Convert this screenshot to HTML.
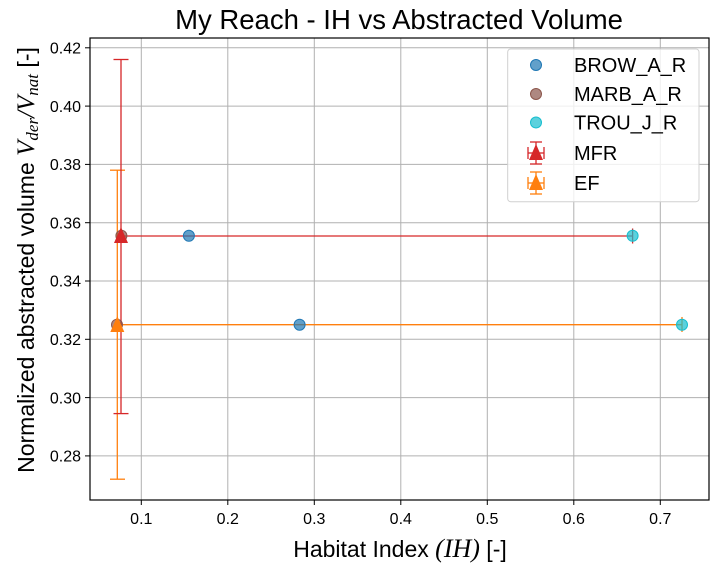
<!DOCTYPE html>
<html><head><meta charset="utf-8"><style>body{margin:0;background:#fff}svg{display:block}text{font-family:"Liberation Sans",Arial,sans-serif}</style></head><body>
<svg width="719" height="572" viewBox="0 0 719 572" xmlns="http://www.w3.org/2000/svg">
<rect width="719" height="572" fill="#fff"/>
<g stroke="#b0b0b0" stroke-width="1">
<line x1="141.3" y1="38" x2="141.3" y2="500"/><line x1="227.8" y1="38" x2="227.8" y2="500"/><line x1="314.3" y1="38" x2="314.3" y2="500"/><line x1="400.8" y1="38" x2="400.8" y2="500"/><line x1="487.3" y1="38" x2="487.3" y2="500"/><line x1="573.8" y1="38" x2="573.8" y2="500"/><line x1="660.3" y1="38" x2="660.3" y2="500"/>
<line x1="90" y1="47.8" x2="709" y2="47.8"/><line x1="90" y1="106.1" x2="709" y2="106.1"/><line x1="90" y1="164.4" x2="709" y2="164.4"/><line x1="90" y1="222.7" x2="709" y2="222.7"/><line x1="90" y1="281" x2="709" y2="281"/><line x1="90" y1="339.3" x2="709" y2="339.3"/><line x1="90" y1="397.6" x2="709" y2="397.6"/><line x1="90" y1="455.9" x2="709" y2="455.9"/>
</g>
<g stroke="#ff7f0e" stroke-width="1.3" fill="none">
<line x1="117.3" y1="170.2" x2="117.3" y2="479.2"/><line x1="110" y1="170.2" x2="125" y2="170.2"/><line x1="110" y1="479.2" x2="125" y2="479.2"/>
<line x1="117.3" y1="324.7" x2="682" y2="324.7"/><line x1="682" y1="317" x2="682" y2="332"/>
</g>
<g stroke="#d62728" stroke-width="1.3" fill="none">
<line x1="121" y1="59.5" x2="121" y2="413.6"/><line x1="113.5" y1="59.5" x2="128.5" y2="59.5"/><line x1="113.5" y1="413.6" x2="128.5" y2="413.6"/>
<line x1="121" y1="236" x2="632.6" y2="236"/><line x1="632.6" y1="228.5" x2="632.6" y2="243.5"/>
</g>
<g stroke-width="1">
<circle cx="188.9" cy="235.8" r="5.5" fill="#1f77b4" fill-opacity="0.7" stroke="#1f77b4"/>
<circle cx="299.6" cy="324.7" r="5.5" fill="#1f77b4" fill-opacity="0.7" stroke="#1f77b4"/>
<circle cx="121.4" cy="235.8" r="5.5" fill="#8c564b" fill-opacity="0.7" stroke="#8c564b"/>
<circle cx="117" cy="324.7" r="5.5" fill="#8c564b" fill-opacity="0.7" stroke="#8c564b"/>
<circle cx="632.6" cy="235.8" r="5.5" fill="#17becf" fill-opacity="0.7" stroke="#17becf"/>
<circle cx="682" cy="324.7" r="5.5" fill="#17becf" fill-opacity="0.7" stroke="#17becf"/>
</g>
<polygon points="121,227 128,243 114,243" fill="#d62728"/>
<polygon points="117.3,316 124.3,332 110.3,332" fill="#ff7f0e"/>
<rect x="90" y="38" width="619" height="462" fill="none" stroke="#000" stroke-width="1.2"/>
<g stroke="#000" stroke-width="1">
<line x1="141.3" y1="500" x2="141.3" y2="505"/><line x1="227.8" y1="500" x2="227.8" y2="505"/><line x1="314.3" y1="500" x2="314.3" y2="505"/><line x1="400.8" y1="500" x2="400.8" y2="505"/><line x1="487.3" y1="500" x2="487.3" y2="505"/><line x1="573.8" y1="500" x2="573.8" y2="505"/><line x1="660.3" y1="500" x2="660.3" y2="505"/>
<line x1="85" y1="47.8" x2="90" y2="47.8"/><line x1="85" y1="106.1" x2="90" y2="106.1"/><line x1="85" y1="164.4" x2="90" y2="164.4"/><line x1="85" y1="222.7" x2="90" y2="222.7"/><line x1="85" y1="281" x2="90" y2="281"/><line x1="85" y1="339.3" x2="90" y2="339.3"/><line x1="85" y1="397.6" x2="90" y2="397.6"/><line x1="85" y1="455.9" x2="90" y2="455.9"/>
</g>
<g font-size="16" text-anchor="middle">
<text x="141.3" y="524">0.1</text><text x="227.8" y="524">0.2</text><text x="314.3" y="524">0.3</text><text x="400.8" y="524">0.4</text><text x="487.3" y="524">0.5</text><text x="573.8" y="524">0.6</text><text x="660.3" y="524">0.7</text>
</g>
<g font-size="16" text-anchor="end">
<text x="81" y="53.5">0.42</text><text x="81" y="111.8">0.40</text><text x="81" y="170.1">0.38</text><text x="81" y="228.4">0.36</text><text x="81" y="286.7">0.34</text><text x="81" y="345">0.32</text><text x="81" y="403.3">0.30</text><text x="81" y="461.6">0.28</text>
</g>
<text x="399" y="29" font-size="27.5" text-anchor="middle">My Reach - IH vs Abstracted Volume</text>
<text x="400" y="557" font-size="23" text-anchor="middle">Habitat Index <tspan font-family="Liberation Serif" font-style="italic" font-size="26">(IH)</tspan> [-]</text>
<text transform="translate(34,260) rotate(-90)" font-size="23" text-anchor="middle">Normalized abstracted volume <tspan font-family="Liberation Serif" font-style="italic" font-size="25">V<tspan font-size="17" dy="4">der</tspan><tspan dy="-4">/V</tspan><tspan font-size="17" dy="4">nat</tspan></tspan><tspan dy="-4"> [-]</tspan></text>
<rect x="507.7" y="49" width="191.3" height="152.7" rx="3" fill="#fff" fill-opacity="0.8" stroke="#d0d0d0"/>
<circle cx="536" cy="65" r="5.5" fill="#1f77b4" fill-opacity="0.7" stroke="#1f77b4"/>
<circle cx="536" cy="94" r="5.5" fill="#8c564b" fill-opacity="0.7" stroke="#8c564b"/>
<circle cx="536" cy="122.5" r="5.5" fill="#17becf" fill-opacity="0.7" stroke="#17becf"/>
<g stroke="#d62728" stroke-width="1.3"><line x1="528" y1="153" x2="544" y2="153"/><line x1="536" y1="142" x2="536" y2="164"/><line x1="528" y1="147" x2="528" y2="159"/><line x1="544" y1="147" x2="544" y2="159"/><line x1="530" y1="142" x2="542" y2="142"/><line x1="530" y1="164" x2="542" y2="164"/></g>
<polygon points="536,144 543,160 529,160" fill="#d62728"/>
<g stroke="#ff7f0e" stroke-width="1.3"><line x1="528" y1="183" x2="544" y2="183"/><line x1="536" y1="172" x2="536" y2="194"/><line x1="528" y1="177" x2="528" y2="189"/><line x1="544" y1="177" x2="544" y2="189"/><line x1="530" y1="172" x2="542" y2="172"/><line x1="530" y1="194" x2="542" y2="194"/></g>
<polygon points="536,174 543,190 529,190" fill="#ff7f0e"/>
<g font-size="20"><text x="574" y="72">BROW_A_R</text><text x="574" y="101">MARB_A_R</text><text x="574" y="129.5">TROU_J_R</text><text x="574" y="160">MFR</text><text x="574" y="190">EF</text></g>
</svg>
</body></html>
